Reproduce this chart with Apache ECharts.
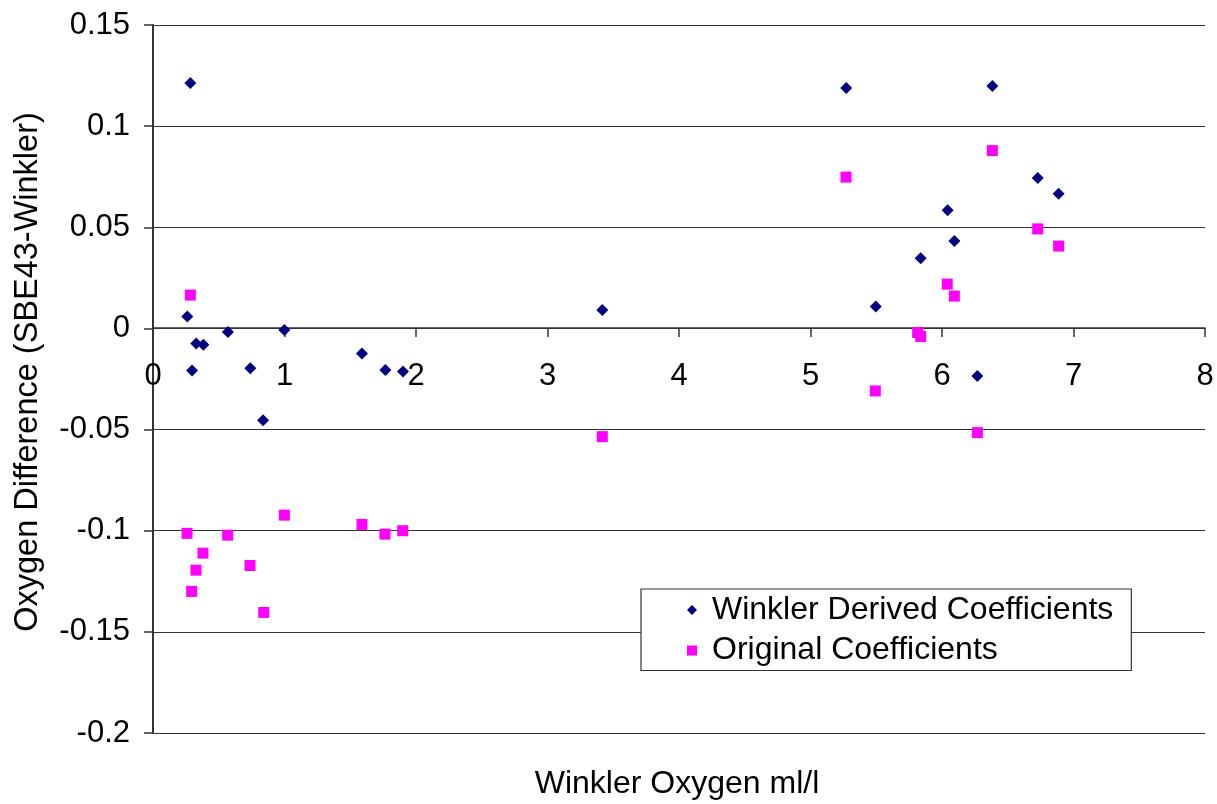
<!DOCTYPE html>
<html>
<head>
<meta charset="utf-8">
<script src="https://cdn.jsdelivr.net/npm/echarts@6/dist/echarts.min.js"></script>
<style>
  html, body { margin: 0; padding: 0; background: #fff; }
  #chart { width: 1217px; height: 804px; }
</style>
</head>
<body>
<div id="chart"></div>
<script>
const winklerX = [0.261, 0.284, 0.297, 0.329, 0.383, 0.570, 0.740, 0.837, 0.999, 1.589, 1.767, 1.901, 3.417, 5.272, 5.496, 5.838, 6.043, 6.094, 6.269, 6.383, 6.728, 6.887];
const winklerY = [0.0059, 0.1213, -0.0208, -0.0074, -0.0081, -0.0018, -0.0197, -0.0454, -0.0008, -0.0124, -0.0206, -0.0213, 0.0091, 0.1188, 0.0109, 0.0347, 0.0584, 0.0432, -0.0235, 0.1198, 0.0744, 0.0666];
const originalX = [0.259, 0.284, 0.294, 0.327, 0.380, 0.568, 0.738, 0.842, 0.999, 1.589, 1.764, 1.899, 3.417, 5.270, 5.493, 5.815, 5.838, 6.040, 6.094, 6.269, 6.383, 6.728, 6.887];
const originalY = [-0.1013, 0.0165, -0.1300, -0.1195, -0.1111, -0.1022, -0.1172, -0.1404, -0.0923, -0.0969, -0.1017, -0.1000, -0.0535, 0.0748, -0.0309, -0.0020, -0.0040, 0.0219, 0.0160, -0.0515, 0.0879, 0.0492, 0.0407];
const seriesNames = ['Winkler Derived Coefficients', 'Original Coefficients'];
const xTitle = 'Winkler Oxygen ml/l';
const yTitle = 'Oxygen Difference (SBE43-Winkler)';

const FONT = '"Liberation Sans", Arial, sans-serif';
const zip = (xs, ys) => xs.map((x, i) => [x, ys[i]]);

const chart = echarts.init(document.getElementById('chart'), null, { renderer: 'canvas' });
chart.setOption({
  animation: false,
  backgroundColor: '#ffffff',
  grid: { left: 153, right: 12, top: 25, bottom: 71, containLabel: false },
  xAxis: {
    type: 'value', min: 0, max: 8, interval: 1,
    position: 'bottom', offset: -405,
    axisLine: { show: true, onZero: false, lineStyle: { color: '#333', width: 1.5 } },
    axisTick: { show: true, inside: false, length: 9, lineStyle: { color: '#333', width: 1.5 } },
    axisLabel: { color: '#000', fontSize: 31, fontFamily: FONT, margin: 33, showMaxLabel: true, showMinLabel: true },
    splitLine: { show: false }
  },
  yAxis: {
    type: 'value', min: -0.2, max: 0.15, interval: 0.05,
    axisLine: { show: true, onZero: false, lineStyle: { color: '#333', width: 2 } },
    axisTick: { show: true, inside: false, length: 9, lineStyle: { color: '#333', width: 1.5 } },
    axisLabel: { color: '#000', fontSize: 31, fontFamily: FONT, margin: 23 },
    splitLine: { show: true, lineStyle: { color: '#333', width: 1.2 } }
  },
  legend: {
    orient: 'vertical', left: 641, top: 589,
    backgroundColor: '#ffffff', borderColor: '#333', borderWidth: 1.2,
    padding: [5, 18, 4, 46], itemGap: 8.5, itemWidth: 10, itemHeight: 10,
    textStyle: { color: '#000', fontSize: 32, fontFamily: FONT, lineHeight: 28, padding: [0, 0, 0, 10] },
    data: [
      { name: seriesNames[0], icon: 'diamond' },
      { name: seriesNames[1], icon: 'rect' }
    ]
  },
  graphic: [
    { type: 'text', x: 677, y: 784,
      style: { text: xTitle, fill: '#000', fontSize: 32, fontFamily: FONT, align: 'center', verticalAlign: 'middle' } },
    { type: 'text', x: 28, y: 372, rotation: Math.PI / 2,
      style: { text: yTitle, fill: '#000', fontSize: 32.5, fontFamily: FONT, align: 'center', verticalAlign: 'middle' } }
  ],
  series: [
    { name: seriesNames[0], type: 'scatter', symbol: 'diamond', symbolSize: 12,
      itemStyle: { color: '#000080', opacity: 1 }, data: zip(winklerX, winklerY) },
    { name: seriesNames[1], type: 'scatter', symbol: 'rect', symbolSize: 11,
      itemStyle: { color: '#ff00ff', opacity: 1 }, data: zip(originalX, originalY) }
  ]
});
</script>
</body>
</html>
